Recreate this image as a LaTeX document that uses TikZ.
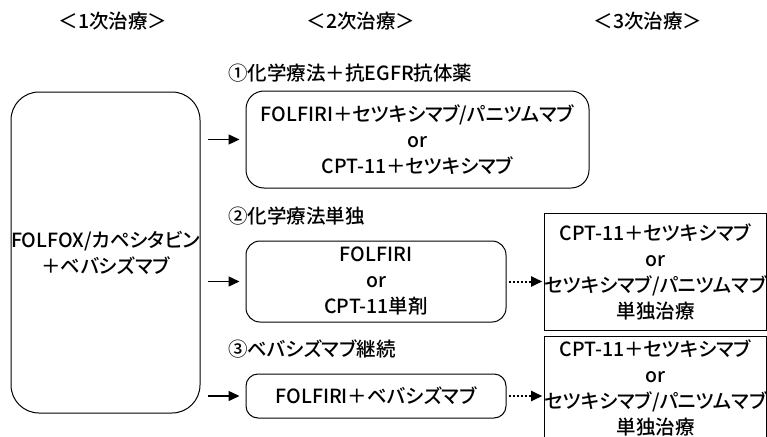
\documentclass[tikz,border=0pt]{standalone}
\usepackage{fontspec}
\setmainfont{Noto Sans CJK JP}[UprightFont={* Medium}, RawFeature=+palt]
\usetikzlibrary{arrows.meta}
\begin{document}
\begin{tikzpicture}[x=1pt,y=-1pt,
  every node/.style={font=\fontsize{19.5}{26}\selectfont, inner sep=0pt},
  hdr/.style={anchor=center},
  lbl/.style={anchor=west},
  rbox/.style={draw, line width=1pt, rounded corners=#1, align=center},
  sbox/.style={draw, line width=0.9pt, align=center},
  arr/.style={line width=1.4pt, -{Triangle[length=11pt,width=10pt]}, shorten <=7pt, shorten >=6pt},
  darr/.style={line width=2pt, dash pattern=on 2pt off 2pt, -{Triangle[length=11pt,width=10pt]}, shorten <=2pt, shorten >=2pt}
]
\useasboundingbox (0,0) rectangle (767,436);
\fill[white] (0,0) rectangle (767,436);

\node[hdr] (h1) at (113,21) {＜1次治療＞};
\node[hdr] (h2) at (361,21) {＜2次治療＞};
\node[hdr] (h3) at (648,21) {＜3次治療＞};

\node[rbox=28pt, minimum width=189pt, minimum height=321pt] (big) at (105.5,252.5)
  {FOLFOX/カペシタビン\\＋ベバシズマブ};

\node[lbl] (l1) at (228,73) {①化学療法＋抗EGFR抗体薬};
\node[rbox=18pt, minimum width=343pt, minimum height=97pt] (b1) at (417.5,139.5)
  {FOLFIRI＋セツキシマブ/パニツムマブ\\or\\CPT-11＋セツキシマブ};

\node[lbl] (l2) at (228,216) {②化学療法単独};
\node[rbox=14pt, minimum width=260pt, minimum height=81pt] (b2) at (376,281.5)
  {FOLFIRI\\or\\CPT-11単剤};

\node[lbl] (l3) at (228,349) {③ベバシズマブ継続};
\node[rbox=12pt, minimum width=260pt, minimum height=44pt] (b3) at (376,396)
  {FOLFIRI＋ベバシズマブ};

\node[sbox, minimum width=221pt, minimum height=117pt] (ra) at (655.5,271.5)
  {CPT-11＋セツキシマブ\\or\\セツキシマブ/パニツムマブ\\単独治療};
\node[sbox, minimum width=221pt, minimum height=104pt] (rb) at (655.5,388)
  {CPT-11＋セツキシマブ\\or\\セツキシマブ/パニツムマブ\\単独治療};

\draw[arr] (big.east |- b1.west) -- (b1.west);
\draw[arr] (big.east |- b2.west) -- (b2.west);
\draw[arr] (big.east |- b3.west) -- (b3.west);
\draw[darr] (b2.east) -- (b2.east -| ra.west);
\draw[darr] (b3.east) -- (b3.east -| rb.west);
\end{tikzpicture}
\end{document}
